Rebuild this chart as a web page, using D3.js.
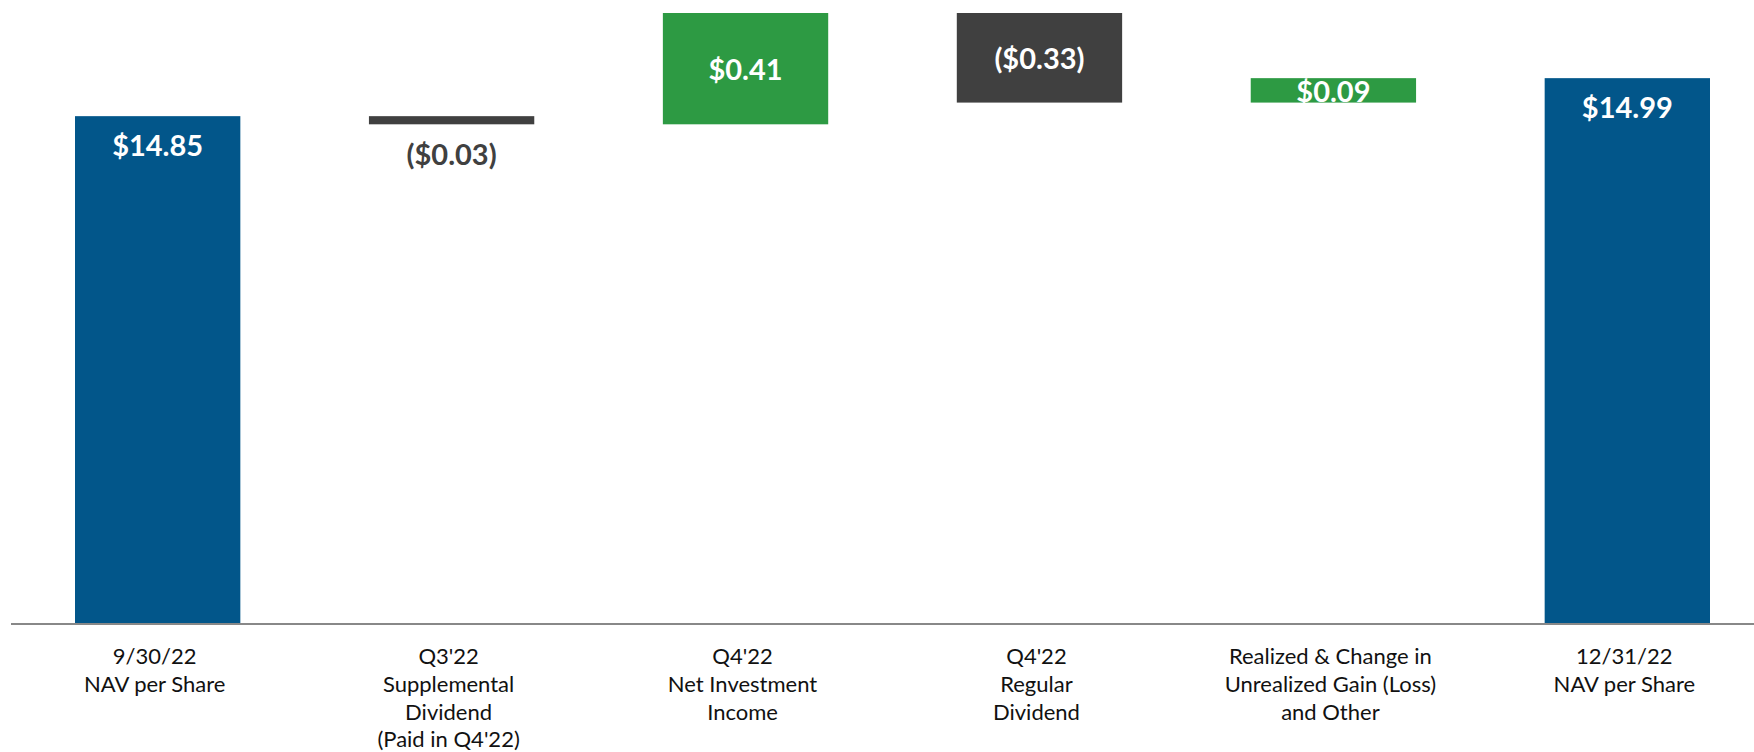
<!DOCTYPE html>
<html>
<head>
<meta charset="utf-8">
<script src="https://cdn.jsdelivr.net/npm/d3@7"></script>
<style>
  html, body { margin: 0; padding: 0; background: #fff; }
  svg { display: block; font-family: Lato, "Open Sans", sans-serif; }
  .category { fill: #111; font-size: 22px; }
  .value { font-size: 29px; font-weight: bold; }
</style>
</head>
<body>
<div id="chart"></div>
<script>
// categories, one per bar, lines of the tick label split by |
var categories = [
  "9/30/22|NAV per Share",
  "Q3'22|Supplemental|Dividend|(Paid in Q4'22)",
  "Q4'22|Net Investment|Income",
  "Q4'22|Regular|Dividend",
  "Realized & Change in|Unrealized Gain (Loss)|and Other",
  "12/31/22|NAV per Share"
];
// bar type: total = full bar from axis, up/down = floating change
var types = ["total", "down", "up", "down", "up", "total"];
// values (totals are NAV, the rest are changes)
var values = [14.85, -0.03, 0.41, -0.33, 0.09, 14.99];
var valueLabels = ["$14.85", "($0.03)", "$0.41", "($0.33)", "$0.09", "$14.99"];

var colors = {total: "#02568a", up: "#2d9a43", down: "#404040"};

var width = 1754, height = 752;
var margin = {left: 75, right: 44, baseline: 623, top: 13};

var svg = d3.select("#chart").append("svg")
  .attr("width", width)
  .attr("height", height);

//build the waterfall steps: start/end for each bar
var running = 0;
var steps = values.map(function (v, i) {
  var step = {cat: categories[i], type: types[i], value: v, label: valueLabels[i]};
  if (types[i] === "total") {
    step.start = null;
    step.end = v;
    running = v;
  } else {
    step.start = running;
    running = running + v;
    step.end = running;
  }
  return step;
});

var yMax = d3.max(steps, function (d) { return Math.max(d.end, d.start || 0); });
//axis is truncated, the chart does not start at zero
var yMin = 12.983;

var x = d3.scaleBand()
  .domain(d3.range(categories.length))
  .range([margin.left, width - margin.right])
  .paddingInner(0.4375)
  .paddingOuter(0);

var y = d3.scaleLinear()
  .domain([yMin, yMax])
  .range([margin.baseline, margin.top]);

var bars = svg.append("g").selectAll("g")
  .data(steps)
  .enter().append("g");

bars.append("rect")
  .attr("x", function (d, i) { return x(i); })
  .attr("width", x.bandwidth())
  .attr("y", function (d) {
    if (d.type === "total") return y(d.end);
    return y(Math.max(d.start, d.end));
  })
  .attr("height", function (d) {
    if (d.type === "total") return y(yMin) - y(d.end);
    return Math.abs(y(d.start) - y(d.end));
  })
  .attr("fill", function (d) { return colors[d.type]; });

//value labels: totals sit at top of bar, changes centered, tiny bars get label below
function tooSmall(d) {
  return d.type !== "total" && Math.abs(y(d.start) - y(d.end)) < 15;
}

bars.append("text")
  .attr("class", "value")
  .attr("text-anchor", "middle")
  .attr("x", function (d, i) { return x(i) + x.bandwidth() / 2; })
  .attr("y", function (d) {
    if (d.type === "total") return y(d.end) + 40;
    var top = y(Math.max(d.start, d.end));
    var bottom = y(Math.min(d.start, d.end));
    if (tooSmall(d)) return bottom + 41;
    return (top + bottom) / 2 + 11.5;
  })
  .attr("fill", function (d) { return tooSmall(d) ? colors.down : "#fff"; })
  .text(function (d) { return d.label; });

//baseline
svg.append("line")
  .attr("x1", 11)
  .attr("x2", width)
  .attr("y1", margin.baseline + 1)
  .attr("y2", margin.baseline + 1)
  .attr("stroke", "#888")
  .attr("stroke-width", 2);

//category labels, multi line
var catLabels = svg.append("g").selectAll("text")
  .data(steps)
  .enter().append("text")
  .attr("class", "category")
  .attr("text-anchor", "middle")
  .attr("x", function (d, i) { return x(i) + x.bandwidth() / 2 - 3; })
  .attr("y", margin.baseline + 41);

catLabels.selectAll("tspan")
  .data(function (d) { return d.cat.split("|"); })
  .enter().append("tspan")
  .attr("x", function () { return d3.select(this.parentNode).attr("x"); })
  .attr("dy", function (d, i) { return i === 0 ? 0 : 27.8; })
  .text(function (d) { return d; });
</script>
</body>
</html>
